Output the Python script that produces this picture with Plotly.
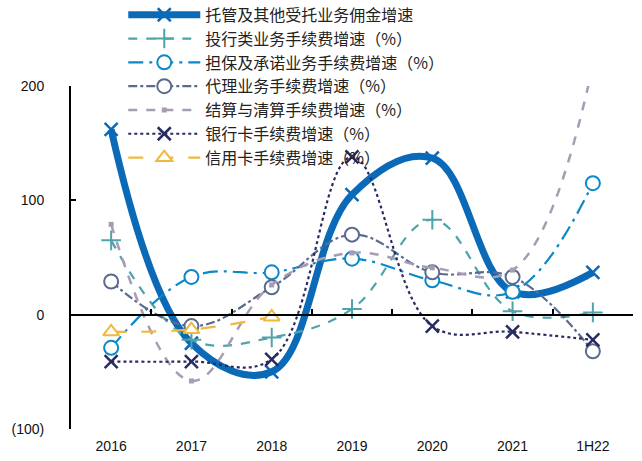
import plotly.graph_objects as go

categories = ["2016", "2017", "2018", "2019", "2020", "2021", "1H22"]

names = [
    "托管及其他受托业务佣金增速",
    "投行类业务手续费增速（%）",
    "担保及承诺业务手续费增速（%）",
    "代理业务手续费增速（%）",
    "结算与清算手续费增速（%）",
    "银行卡手续费增速（%）",
    "信用卡手续费增速（%）",
]

custody = [162, -25, -50, 105, 137, 20, 37]
ib = [65, -22, -20, 5, 83, 3, 2]
guarantee = [-29, 33, 37, 49, 30, 20, 115]
agency = [29, -10, 24, 70, 37, 33, -32]
settlement = [79, -58, 26, 54, 41, 39, 218]
bankcard = [-41, -41, -39, 138, -10, -15, -22]
creditcard = [-15, -13, -2, None, None, None, None]

y_tickvals = [-100, 0, 100, 200]
y_ticktext = ["(100)", "0", "100", "200"]

series = [
    dict(y=custody, color="#0B6AB8", width=7, dash="solid",
         symbol="x-thin", msize=13, mfill="#0B6AB8", mline=2.5),
    dict(y=ib, color="#4FA3AA", width=2.2, dash="dash",
         symbol="cross-thin", msize=14, mfill="#4FA3AA", mline=2),
    dict(y=guarantee, color="#0A88C8", width=2.2, dash="longdashdot",
         symbol="circle", msize=14, mfill="white", mline=2),
    dict(y=agency, color="#5B6B8F", width=2.2, dash="dashdot",
         symbol="circle", msize=14, mfill="white", mline=2),
    dict(y=settlement, color="#A79CB3", width=2.5, dash="dash",
         symbol="square", msize=5, mfill="#A79CB3", mline=0),
    dict(y=bankcard, color="#272B60", width=2.2, dash="dot",
         symbol="x-thin", msize=13, mfill="#272B60", mline=2.5),
    dict(y=creditcard, color="#F0B93E", width=2.2, dash="longdash",
         symbol="triangle-up", msize=14, mfill="white", mline=2),
]

fig = go.Figure()
for name, s in zip(names, series):
    fig.add_trace(go.Scatter(
        x=categories, y=s["y"], name=name, mode="lines+markers",
        line=dict(color=s["color"], width=s["width"], dash=s["dash"],
                  shape="spline", smoothing=1.1),
        marker=dict(symbol=s["symbol"], size=s["msize"], color=s["mfill"],
                    line=dict(color=s["color"], width=s["mline"])),
        connectgaps=False,
    ))

# zero-line axis with category boundary ticks
fig.add_trace(go.Scatter(x=[None], y=[None], xaxis="x2", showlegend=False,
                         hoverinfo="skip"))

fig.update_layout(
    width=642, height=461,
    margin=dict(l=71, r=9, t=86, b=32, autoexpand=False),
    plot_bgcolor="white", paper_bgcolor="white",
    font=dict(family="Liberation Sans, Arial", size=14, color="#111"),
    xaxis=dict(type="category", range=[-0.5, 6.5], showline=False,
               showgrid=False, zeroline=False, ticks="outside",
               ticklen=4, tickcolor="rgba(0,0,0,0)",
               tickfont=dict(size=14, color="#111")),
    xaxis2=dict(overlaying="x", anchor="free", position=1/3,
                range=[-0.5, 6.5], showline=True, linecolor="black",
                linewidth=2, ticks="inside", ticklen=5, tickwidth=1.5,
                tickcolor="black",
                tickvals=[0.5, 1.5, 2.5, 3.5, 4.5, 5.5, 6.5],
                showticklabels=False, showgrid=False, zeroline=False),
    yaxis=dict(range=[-100, 200], tickvals=y_tickvals, ticktext=y_ticktext,
               showline=True, linecolor="black", linewidth=2,
               ticks="inside", ticklen=5, tickwidth=1.5, tickcolor="black",
               showgrid=False, zeroline=False, ticklabelstandoff=22,
               tickfont=dict(size=14, color="#111")),
    legend=dict(x=0.093, y=1.257, xanchor="left", yanchor="top",
                bgcolor="rgba(0,0,0,0)", itemwidth=72,
                font=dict(family="Noto Sans CJK SC", size=16, color="#222"),
                tracegroupgap=0),
    showlegend=True,
)

fig.write_html("out.html")
